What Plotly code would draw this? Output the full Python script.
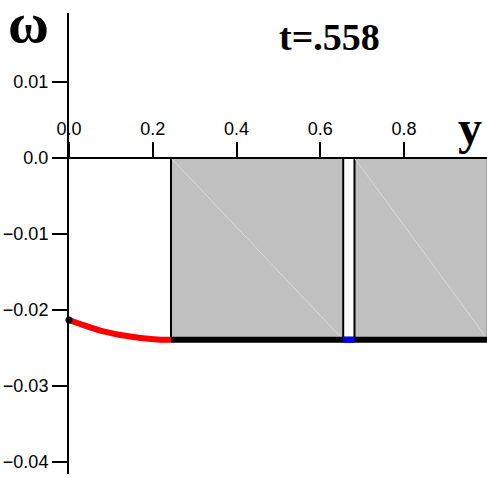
import plotly.graph_objects as go

# ---- data ----
x_ticks = [0.0, 0.2, 0.4, 0.6, 0.8]
x_ticklabels = ["0.0", "0.2", "0.4", "0.6", "0.8"]
y_ticks = [0.01, 0.0, -0.01, -0.02, -0.03, -0.04]
y_ticklabels = ["0.01", "0.0", "\u22120.01", "\u22120.02", "\u22120.03", "\u22120.04"]

# gray blocks (y-intervals) and their lower level
block_starts = [0.2435, 0.6816]
block_ends = [0.6547, 1.0]
block_level = -0.0239

# red curve omega(y) on the free part
curve_y = [0.0, 0.027, 0.075, 0.123, 0.171, 0.218, 0.2435]
curve_w = [-0.02132, -0.02184, -0.02272, -0.02329, -0.02368, -0.0239, -0.0239]

# bottom segments
black_seg = [0.2435, 1.0]
blue_seg = [0.6547, 0.6816]

title_text = "t=.558"
x_label = "y"
y_label = "\u03c9"

# ---- layout geometry ----
W, H = 487, 478
ML, MR, MT, MB = 69, 0, 13, 4
x_range = [0.0, 0.998]
y_range = [-0.04158, 0.01908]
PW = W - ML - MR
PH = H - MT - MB


def px_to_paper(px, py):
    return (px - ML) / PW, (H - MB - py) / PH


zero_pos = (0 - y_range[0]) / (y_range[1] - y_range[0])

fig = go.Figure()

for a, b in zip(block_starts, block_ends):
    fig.add_trace(go.Scatter(
        x=[a, b, b, a, a], y=[0, 0, block_level, block_level, 0],
        mode="lines", fill="toself", fillcolor="#c0c0c0",
        line=dict(color="black", width=2), hoverinfo="skip", showlegend=False))
    fig.add_trace(go.Scatter(
        x=[a, b], y=[0, block_level], mode="lines",
        line=dict(color="#dadada", width=1), hoverinfo="skip", showlegend=False))

fig.add_trace(go.Scatter(
    x=black_seg, y=[block_level] * 2, mode="lines",
    line=dict(color="black", width=6), showlegend=False))
fig.add_trace(go.Scatter(
    x=blue_seg, y=[block_level] * 2, mode="lines",
    line=dict(color="blue", width=6), showlegend=False))
fig.add_trace(go.Scatter(
    x=curve_y, y=curve_w, mode="lines",
    line=dict(color="red", width=6, shape="spline"), showlegend=False))
fig.add_trace(go.Scatter(
    x=curve_y[:1], y=curve_w[:1], mode="markers",
    marker=dict(color="black", size=7), cliponaxis=False, showlegend=False))

tick_font = dict(family="Liberation Sans, Arial, sans-serif", size=18, color="black")
fig.update_layout(
    width=W, height=H,
    margin=dict(l=ML, r=MR, t=MT, b=MB, pad=0),
    paper_bgcolor="white", plot_bgcolor="white",
    showlegend=False,
    xaxis=dict(range=x_range, tickvals=x_ticks, ticktext=x_ticklabels,
               side="top", anchor="free", position=zero_pos,
               ticks="outside", ticklen=15, tickwidth=1.5, tickcolor="black",
               showline=True, linecolor="black", linewidth=2,
               showgrid=False, zeroline=False, tickfont=tick_font),
    yaxis=dict(range=y_range, tickvals=y_ticks, ticktext=y_ticklabels,
               ticks="outside", ticklen=15, tickwidth=1.5, tickcolor="black",
               showline=True, linecolor="black", linewidth=2,
               showgrid=False, zeroline=False, tickfont=tick_font),
)

serif = "Liberation Serif, Times New Roman, serif"
ax, ay = px_to_paper(28, 23)
fig.add_annotation(x=ax, y=ay, xref="paper", yref="paper", text="<b>%s</b>" % y_label,
                   showarrow=False, xanchor="center", yanchor="middle",
                   font=dict(family=serif, size=56, color="black"))
tx, ty = px_to_paper(329, 37)
fig.add_annotation(x=tx, y=ty, xref="paper", yref="paper", text="<b>%s</b>" % title_text,
                   showarrow=False, xanchor="center", yanchor="middle",
                   font=dict(family=serif, size=38, color="black"))
lx, ly = px_to_paper(470, 127)
fig.add_annotation(x=lx, y=ly, xref="paper", yref="paper", text="<b>%s</b>" % x_label,
                   showarrow=False, xanchor="center", yanchor="middle",
                   font=dict(family=serif, size=48, color="black"))

fig.write_html("out.html", config={"displayModeBar": False},
               post_script="document.body.style.margin='0';")
